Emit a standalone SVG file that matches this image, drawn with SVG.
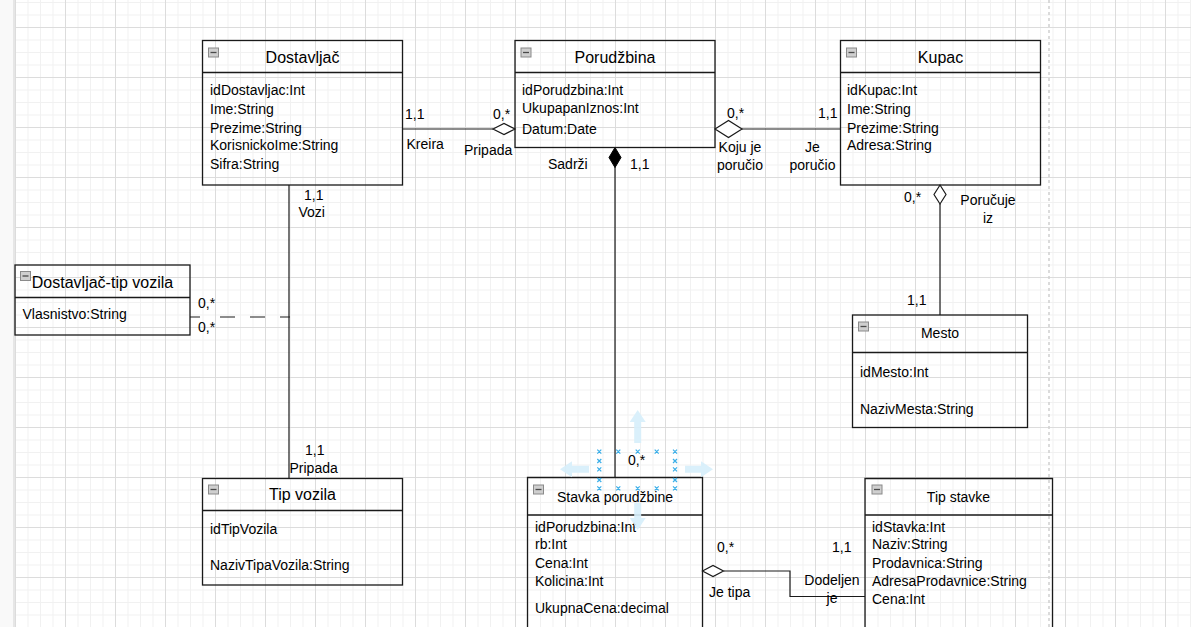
<svg xmlns="http://www.w3.org/2000/svg" width="1191" height="627" viewBox="0 0 1191 627">
<style>
text{font-family:"Liberation Sans",Arial,sans-serif;fill:#000}
.t16{font-size:16px}
.t14{font-size:14px}
.mid{text-anchor:middle}
.box{fill:none;stroke:#1a1a1a;stroke-width:1.3}
.ln{fill:none;stroke:#1a1a1a;stroke-width:1.2}
.hollow{fill:#fff;stroke:#1a1a1a;stroke-width:1.2}
.solid{fill:#000;stroke:#000;stroke-width:1}
.ico{fill:#cfcfcf;stroke:#8a8a8a;stroke-width:1}
.icl{stroke:#4a4a4a;stroke-width:1.3}
.hx{stroke:#3aaee8;stroke-width:1.2}
.har{fill:#d6eefb;opacity:0.9}
</style>
<defs>
<pattern id="grid" x="15" y="27" width="50" height="50" patternUnits="userSpaceOnUse">
<path d="M13 0V50M25.5 0V50M38 0V50M0 13H50M0 25.5H50M0 38H50" stroke="#f1f1f1" stroke-width="1" fill="none"/>
<path d="M0.5 0V50M0 0.5H50" stroke="#dcdcdc" stroke-width="1" fill="none"/>
</pattern>
<g id="icon"><rect class="ico" x="0.5" y="0.5" width="10" height="9"/><path class="icl" d="M2.5 5H8.5"/></g>
</defs>
<rect width="1191" height="627" fill="#fff"/>
<rect x="15" y="0" width="1176" height="627" fill="url(#grid)"/>
<rect x="0" y="0" width="13" height="627" fill="#f9f9f9"/>
<rect x="13" y="0" width="2" height="627" fill="#e6e6e6"/>

<g id="connectors">
<path class="ln" d="M402.5 129H493"/>
<path class="hollow" d="M493 129L504 123.5L515 129L504 134.5Z"/>
<path class="ln" d="M742 129H840.5"/>
<path class="hollow" d="M715 129L728.5 120.5L742 129L728.5 137.5Z"/>
<path class="ln" d="M615 167V477.5"/>
<path class="solid" d="M615 147.5L621 157.5L615 167.5L609 157.5Z"/>
<path class="ln" d="M940 204V315"/>
<path class="hollow" d="M940 185L946 194.5L940 204L934 194.5Z"/>
<path class="ln" d="M289 185V478.5"/>
<path class="ln" d="M190 317H290" stroke-dasharray="10 20 15 15 15 15 10"/>
<path class="ln" d="M723.5 571H790V596.5H865"/>
<path class="hollow" d="M702.5 571L713 565.5L723.5 571L713 576.5Z"/>

<text class="t14" x="405" y="118.5">1,1</text>
<text class="t14" x="406.5" y="148.5">Kreira</text>
<text class="t14" x="493" y="118.5">0,*</text>
<text class="t14" x="464" y="154.5">Pripada</text>
<text class="t14" x="727" y="118">0,*</text>
<text class="t14" x="818" y="118">1,1</text>
<text class="t14 mid" x="740" y="151.5">Koju je</text>
<text class="t14 mid" x="740" y="170">poručio</text>
<text class="t14 mid" x="812.5" y="151.5">Je</text>
<text class="t14 mid" x="812.5" y="170">poručio</text>
<text class="t14" x="548" y="168.5">Sadrži</text>
<text class="t14" x="630" y="168.5">1,1</text>
<text class="t14" x="904" y="201.5">0,*</text>
<text class="t14 mid" x="988" y="205">Poručuje</text>
<text class="t14 mid" x="988" y="222.5">iz</text>
<text class="t14" x="907" y="305">1,1</text>
<text class="t14" x="304" y="200">1,1</text>
<text class="t14" x="298.5" y="217">Vozi</text>
<text class="t14" x="198" y="307.5">0,*</text>
<text class="t14" x="198" y="332">0,*</text>
<text class="t14" x="305" y="455">1,1</text>
<text class="t14" x="289.5" y="472.5">Pripada</text>
<text class="t14" x="628" y="465">0,*</text>
<text class="t14" x="717" y="551.5">0,*</text>
<text class="t14" x="709" y="596.5">Je tipa</text>
<text class="t14" x="832" y="551.5">1,1</text>
<text class="t14 mid" x="832" y="585">Dodeljen</text>
<text class="t14 mid" x="832" y="603">je</text>
</g>

<g id="dostavljac">
<rect class="box" x="202.5" y="40.5" width="200" height="144.5"/>
<path class="box" d="M202.5 72.5H402.5"/>
<use href="#icon" x="208" y="47.5"/>
<text class="t16 mid" x="302.5" y="63.2">Dostavljač</text>
<text class="t14" x="210" y="95">idDostavljac:Int</text>
<text class="t14" x="210" y="114">Ime:String</text>
<text class="t14" x="210" y="132.7">Prezime:String</text>
<text class="t14" x="210" y="150">KorisnickoIme:String</text>
<text class="t14" x="210" y="169.3">Sifra:String</text>
</g>

<g id="porudzbina">
<rect class="box" x="515" y="40.5" width="200" height="107"/>
<path class="box" d="M515 72.5H715"/>
<use href="#icon" x="520.5" y="47.5"/>
<text class="t16 mid" x="615" y="63.2">Porudžbina</text>
<text class="t14" x="522" y="95">idPorudzbina:Int</text>
<text class="t14" x="522" y="113.3">UkupapanIznos:Int</text>
<text class="t14" x="522" y="134">Datum:Date</text>
</g>

<g id="kupac">
<rect class="box" x="840.5" y="40.5" width="200" height="144.5"/>
<path class="box" d="M840.5 72.5H1040.5"/>
<use href="#icon" x="846" y="47.5"/>
<text class="t16 mid" x="940.5" y="63.2">Kupac</text>
<text class="t14" x="847" y="95">idKupac:Int</text>
<text class="t14" x="847" y="114">Ime:String</text>
<text class="t14" x="847" y="132.7">Prezime:String</text>
<text class="t14" x="847" y="150">Adresa:String</text>
</g>

<g id="mesto">
<rect class="box" x="852.5" y="315" width="175" height="112.5"/>
<path class="box" d="M852.5 352.5H1027.5"/>
<use href="#icon" x="858" y="321.5"/>
<text class="t14 mid" x="940" y="337.7">Mesto</text>
<text class="t14" x="860" y="377.3">idMesto:Int</text>
<text class="t14" x="860" y="414">NazivMesta:String</text>
</g>

<g id="dostavljac-tip-vozila">
<rect class="box" x="15" y="265" width="175" height="70"/>
<path class="box" d="M15 297.5H190"/>
<text class="t16 mid" x="102.5" y="288.2">Dostavljač-tip vozila</text>
<use href="#icon" x="20" y="271"/>
<text class="t14" x="22.5" y="319.3">Vlasnistvo:String</text>
</g>

<g id="tip-vozila">
<rect class="box" x="202.5" y="478.5" width="200" height="106.5"/>
<path class="box" d="M202.5 510.5H402.5"/>
<use href="#icon" x="208" y="484.5"/>
<text class="t16 mid" x="302.5" y="499.8">Tip vozila</text>
<text class="t14" x="210" y="534">idTipVozila</text>
<text class="t14" x="210" y="570">NazivTipaVozila:String</text>
</g>

<g id="stavka-porudzbine">
<path class="box" d="M527.5 630V477.5H702.5V630"/>
<path class="box" d="M527.5 515H702.5"/>
<use href="#icon" x="533" y="484.5"/>
<text class="t14 mid" x="615" y="501.7">Stavka porudžbine</text>
<text class="t14" x="535" y="531.7">idPorudzbina:Int</text>
<text class="t14" x="535" y="549.3">rb:Int</text>
<text class="t14" x="535" y="568.3">Cena:Int</text>
<text class="t14" x="535" y="586">Kolicina:Int</text>
<text class="t14" x="535" y="613.3">UkupnaCena:decimal</text>
</g>

<g id="tip-stavke">
<path class="box" d="M865 630V478.5H1052.5V630"/>
<path class="box" d="M865 515H1052.5"/>
<use href="#icon" x="871.5" y="484.5"/>
<text class="t14 mid" x="958.5" y="501.7">Tip stavke</text>
<text class="t14" x="872" y="531.7">idStavka:Int</text>
<text class="t14" x="872" y="549.3">Naziv:String</text>
<text class="t14" x="872" y="568.3">Prodavnica:String</text>
<text class="t14" x="872" y="586">AdresaProdavnice:String</text>
<text class="t14" x="872" y="604">Cena:Int</text>
</g>

<path d="M1049 0V627" stroke="#cfcfcf" stroke-width="1.5" stroke-dasharray="3 3" fill="none"/>

<g id="selection-handles">
<path class="har" d="M637.7 410L645.7 422H641.2V443H634.2V422H629.7Z"/>
<path class="har" d="M637.7 530L645.7 518H641.2V503H634.2V518H629.7Z"/>
<path class="har" d="M560 469.3L572 461.3V465.8H589V472.8H572V477.3Z"/>
<path class="har" d="M713 469.3L701 461.3V465.8H685V472.8H701V477.3Z"/>
<g class="hx">
<path d="M597.3 449.7l4 4m0 -4l-4 4M616.3 449.7l4 4m0 -4l-4 4M635.7 449.7l4 4m0 -4l-4 4M654.7 449.7l4 4m0 -4l-4 4M673 449.7l4 4m0 -4l-4 4"/>
<path d="M597.3 486.3l4 4m0 -4l-4 4M616.3 486.3l4 4m0 -4l-4 4M635.7 486.3l4 4m0 -4l-4 4M654.7 486.3l4 4m0 -4l-4 4M673 486.3l4 4m0 -4l-4 4"/>
<path d="M597.3 459l4 4m0 -4l-4 4M597.3 467.3l4 4m0 -4l-4 4M597.3 478l4 4m0 -4l-4 4"/>
<path d="M673 459l4 4m0 -4l-4 4M673 467.3l4 4m0 -4l-4 4M673 478l4 4m0 -4l-4 4"/>
</g>
</g>
</svg>
